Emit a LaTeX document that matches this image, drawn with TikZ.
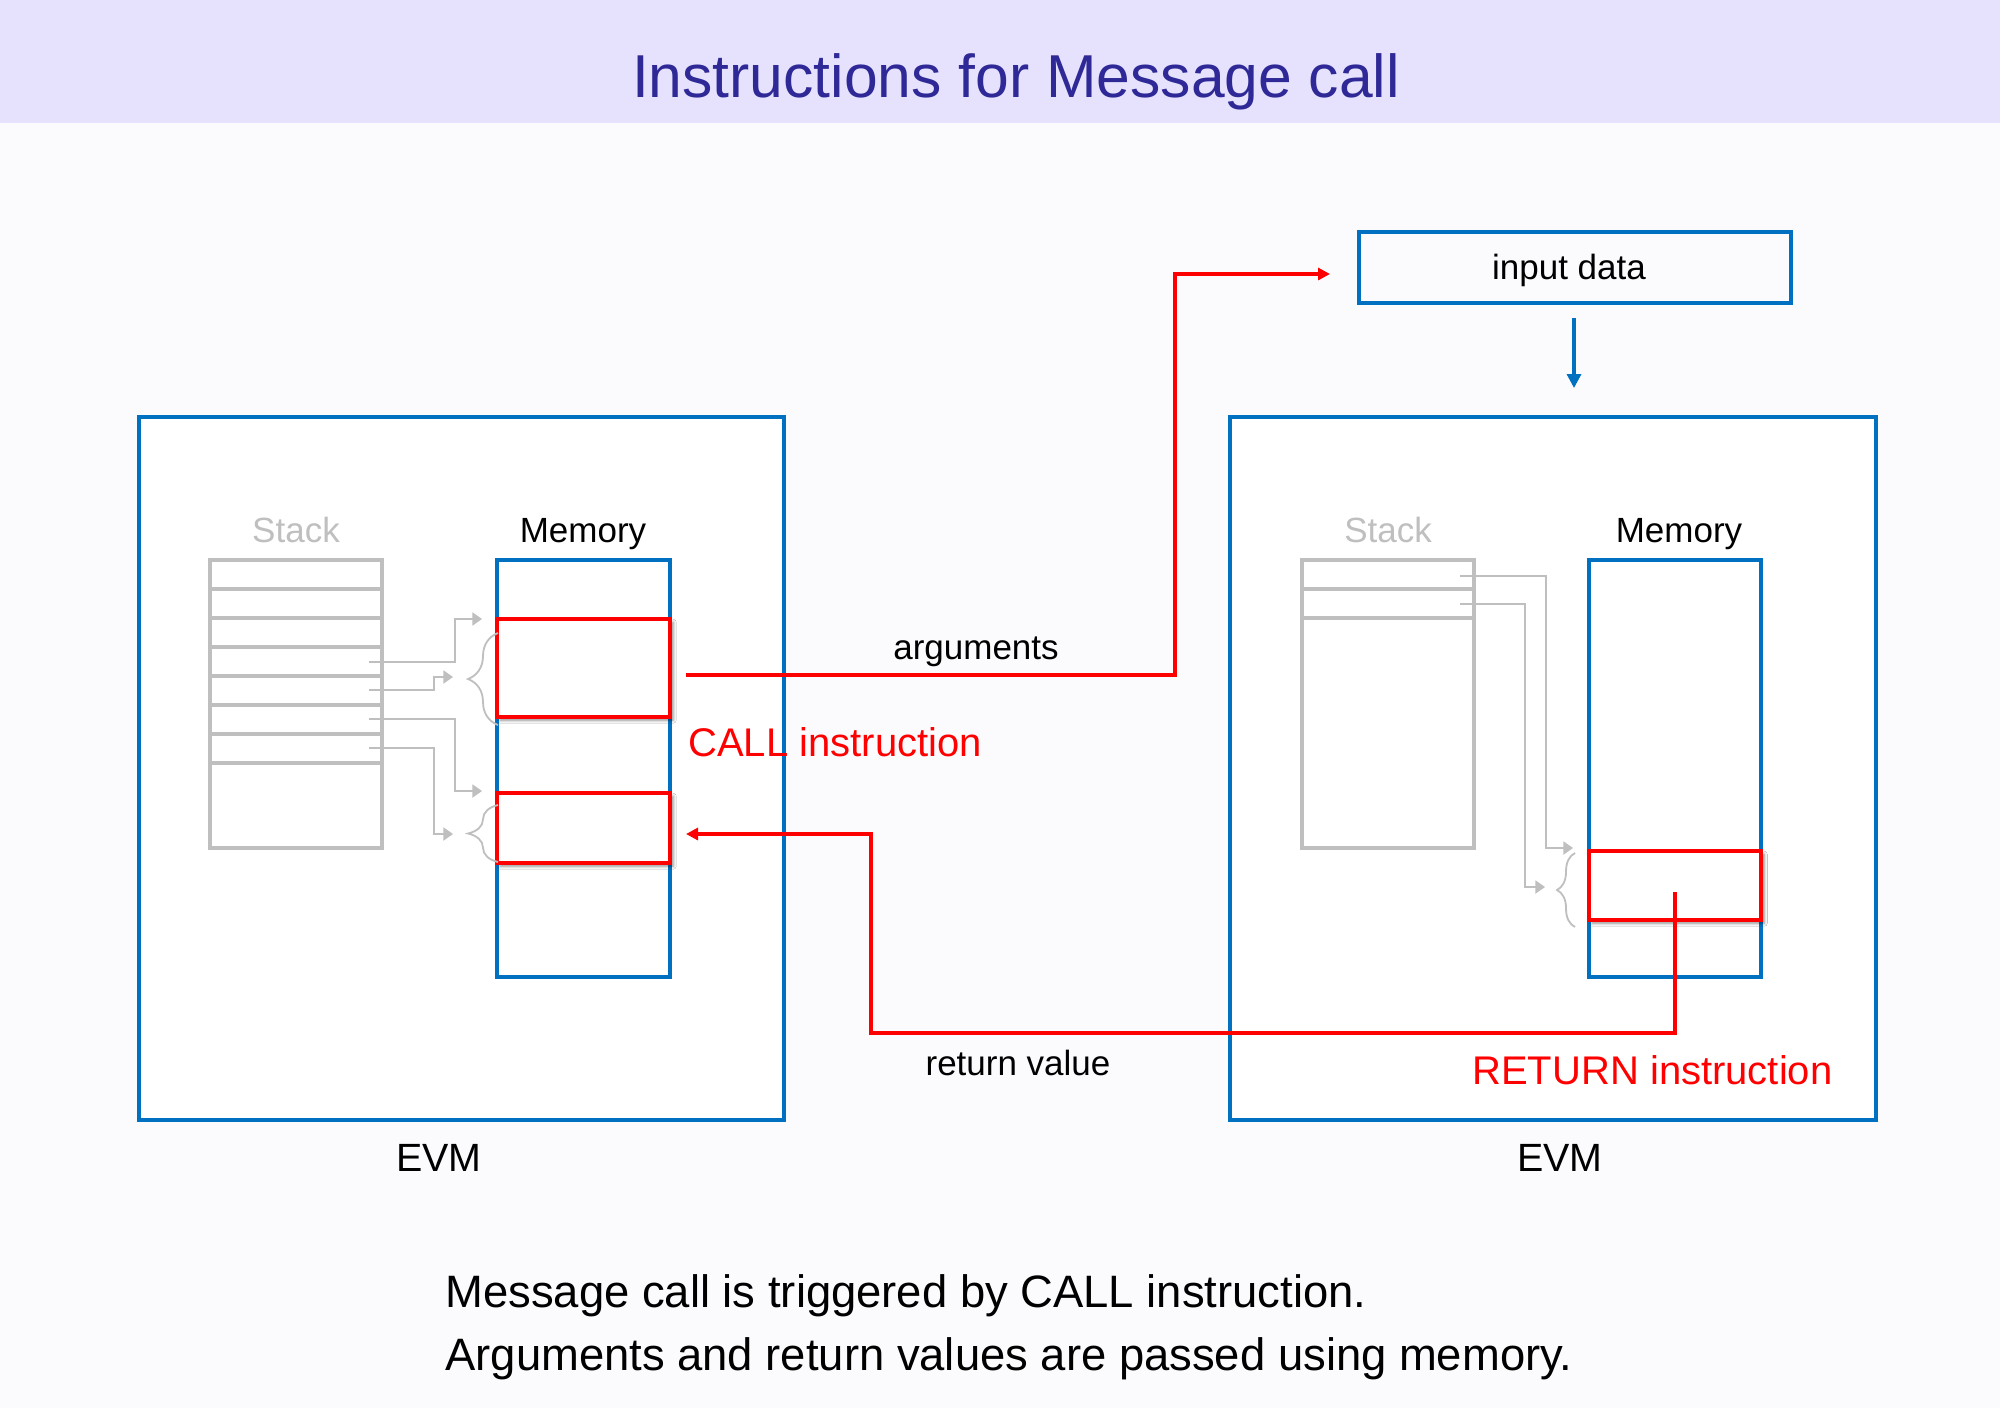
\documentclass[tikz,border=0pt]{standalone}
\usepackage{fontspec}
\setmainfont{Liberation Sans}
\usetikzlibrary{arrows.meta,decorations.pathreplacing,shadows.blur,calc}
\definecolor{hdr}{RGB}{230,226,254}
\definecolor{bgc}{RGB}{251,251,254}
\definecolor{ttl}{RGB}{46,41,150}
\definecolor{evmblue}{RGB}{0,112,192}
\definecolor{cred}{RGB}{255,0,0}
\definecolor{cgray}{RGB}{191,191,191}
\begin{document}
\begin{tikzpicture}[x=0.5pt,y=-0.5pt,
  bluebox/.style={draw=evmblue,line width=1.6pt,fill=white,inner sep=0pt,outer sep=0pt},
  redbox/.style={draw=cred,line width=1.8pt,fill=white,inner sep=0pt,outer sep=0pt,
    blur shadow={shadow xshift=1.6pt,shadow yshift=-1.6pt,shadow blur radius=1.5pt,shadow opacity=45}},
  stackbox/.style={draw=cgray,line width=1.6pt,fill=white,inner sep=0pt,outer sep=0pt},
  stackline/.style={draw=cgray,line width=1.6pt},
  lbl/.style={inner sep=0pt,anchor=base,font=\fontsize{17.5pt}{21pt}\selectfont},
  redlbl/.style={inner sep=0pt,anchor=base west,text=cred,font=\fontsize{20pt}{24pt}\selectfont},
  evmlbl/.style={inner sep=0pt,anchor=base,font=\fontsize{19.7pt}{24pt}\selectfont},
  botlbl/.style={inner sep=0pt,anchor=base west,font=\fontsize{22.7pt}{27pt}\selectfont},
  grayarrow/.style={draw=cgray,line width=0.9pt,-{Triangle[length=4.8pt,width=6.5pt]}},
  bracebig/.style={draw=cgray,line width=0.9pt,decorate,decoration={brace,amplitude=15pt}},
  bracesmall/.style={draw=cgray,line width=0.9pt,decorate,decoration={brace,amplitude=9pt}},
  redarrow/.style={draw=cred,line width=1.8pt,-{Triangle[length=6pt,width=6pt]}},
  bluearrow/.style={draw=evmblue,line width=1.6pt,-{Triangle[length=7pt,width=7pt]}},
]
\useasboundingbox (0,0) rectangle (2000,1408);
\fill[bgc] (0,0) rectangle (2000,1408);
\fill[hdr] (0,0) rectangle (2000,123);
\node[inner sep=0pt,anchor=base,text=ttl,font=\fontsize{30.3pt}{36pt}\selectfont] (title) at (1016,97) {Instructions for Message call};

% EVM boxes
\node[bluebox,minimum width=322.5pt,minimum height=351.5pt] (evmL) at (461.5,768.5) {};
\node[bluebox,minimum width=323pt,minimum height=351.5pt] (evmR) at (1553,768.5) {};
\node[bluebox,fill=none,minimum width=216pt,minimum height=35.5pt] (input) at (1575,267.5) {};
\node[lbl] (inputLbl) at (1569,279) {input data};

% memory boxes
\node[bluebox,minimum width=86.5pt,minimum height=208.5pt] (memL) at (583.5,768.5) {};
\node[bluebox,minimum width=86pt,minimum height=208.5pt] (memR) at (1675,768.5) {};

% stacks
\node[stackbox,minimum width=86pt,minimum height=144pt] (stackL) at (296,704) {};
\node[stackbox,minimum width=86pt,minimum height=144pt] (stackR) at (1388,704) {};
\foreach \yy in {589,618,647,676,705,734,763}
  \draw[stackline] (stackL.west |- 0,\yy) -- (stackL.east |- 0,\yy);
\foreach \yy in {589,618}
  \draw[stackline] (stackR.west |- 0,\yy) -- (stackR.east |- 0,\yy);

% red memory regions
\node[redbox,minimum width=86.5pt,minimum height=49pt] (argL) at (583.5,668) {};
\node[redbox,minimum width=86.5pt,minimum height=35pt] (retL) at (583.5,828) {};
\node[redbox,minimum width=86pt,minimum height=34.5pt] (retR) at (1675,885.5) {};

% gray pointers (left)
\coordinate (sL1) at (369,662);
\coordinate (sL2) at (369,690);
\coordinate (sL3) at (369,719);
\coordinate (sL4) at (369,748);
\coordinate (tL1) at (482,619);
\coordinate (tL2) at (453,677);
\coordinate (tL3) at (482,791);
\coordinate (tL4) at (453,834);
\draw[grayarrow] (sL1) -| (455,619) -- (tL1);
\draw[grayarrow] (sL2) -| (434,677) -- (tL2);
\draw[grayarrow] (sL3) -| (455,791) -- (tL3);
\draw[grayarrow] (sL4) -| (434,834) -- (tL4);
\draw[bracebig] (498,725) -- (498,633);
\draw[bracebig] (498,862) -- (498,805);

% gray pointers (right)
\coordinate (sR1) at (1460,576);
\coordinate (sR2) at (1460,604);
\coordinate (tR1) at (1573,848);
\coordinate (tR2) at (1545,887);
\draw[grayarrow] (sR1) -| (1546,848) -- (tR1);
\draw[grayarrow] (sR2) -| (1525,887) -- (tR2);
\draw[bracesmall] (1575,927) -- (1575,853);

% red connectors
\coordinate (argStart) at (686,675);
\coordinate (argEnd) at (1330,274);
\draw[redarrow] (argStart) -| (1175,274) -- (argEnd);
\coordinate (retStart) at (1675,892);
\coordinate (retEnd) at (686,834);
\draw[redarrow] (retStart) |- (871,1033) |- (retEnd);

% blue input arrow
\coordinate (inStart) at (1574,318);
\coordinate (inEnd) at (1574,388);
\draw[bluearrow] (inStart) -- (inEnd);

% labels
\node[lbl,text=cgray] (stkLlbl) at (296,542) {Stack};
\node[lbl] (memLlbl) at (583,542) {Memory};
\node[lbl,text=cgray] (stkRlbl) at (1388,542) {Stack};
\node[lbl] (memRlbl) at (1679,542) {Memory};
\node[lbl] (argLbl) at (976,659) {arguments};
\node[redlbl] (callLbl) at (688,756) {CALL instruction};
\node[lbl] (retvLbl) at (1018,1075) {return value};
\node[redlbl] (retLbl) at (1472,1084) {RETURN instruction};
\node[evmlbl] (evmLlbl) at (439,1171) {EVM};
\node[evmlbl] (evmRlbl) at (1560,1171) {EVM};
\node[botlbl] (bot1) at (445,1307) {Message call is triggered by CALL instruction.};
\node[botlbl] (bot2) at (445,1370) {Arguments and return values are passed using memory.};
\end{tikzpicture}
\end{document}
